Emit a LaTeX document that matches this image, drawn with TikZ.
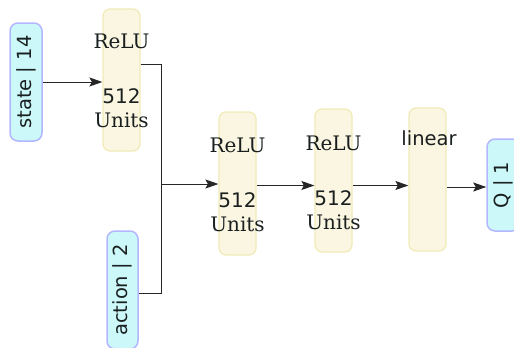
\documentclass[tikz,border=0pt]{standalone}
\usepackage{fontspec}
\setmainfont{DejaVu Sans}
\newfontfamily\serifdv{DejaVu Serif}
\newfontfamily\sansdv{DejaVu Sans}
\usetikzlibrary{arrows.meta}
\definecolor{layerfill}{HTML}{FBF6E1}
\definecolor{layerdraw}{HTML}{F0EBB6}
\definecolor{iofill}{HTML}{CCF8FA}
\definecolor{iodraw}{HTML}{B3B7FF}
\definecolor{txt}{HTML}{1A1F1F}
\tikzset{
  layerbox/.style={draw=layerdraw, fill=layerfill, line width=1.2pt, rounded corners=7pt,
    minimum width=37pt, inner sep=0pt},
  layertext/.style={inner sep=0pt, align=center, text=txt,
    font=\fontsize{20}{24}\selectfont},
  iobox/.style={draw=iodraw, fill=iofill, line width=1.5pt, rounded corners=8pt,
    inner sep=0pt, rotate=90, text=txt, font=\sansdv\fontsize{19.5}{23}\selectfont},
  txtnode/.style={inner sep=0pt, text=txt, font=\sansdv\fontsize{19.5}{23}\selectfont},
  conn/.style={line width=1pt, draw=black!85},
  arr/.style={conn, -{Stealth[length=13pt, width=9pt, inset=2.5pt]}}
}
\begin{document}
\begin{tikzpicture}[x=1pt,y=1pt]
\useasboundingbox (0,0) rectangle (514,-348);
% input / output boxes
\node[iobox, minimum width=118pt, minimum height=32pt] (state) at (26,-82) {state | 14};
\node[iobox, minimum width=118pt, minimum height=31pt] (action) at (122.5,-290) {action | 2};
\node[iobox, minimum width=92pt, minimum height=33pt] (q) at (503.5,-185) {Q | 1};
% layer boxes
\node[layerbox, minimum height=142pt] (relu1) at (121.5,-80) {};
\node[layertext] (relu1t) at (121.5,-80.5) {{\serifdv ReLU}\\[31pt]{\sansdv 512}\\{\serifdv Units}};
\node[layerbox, minimum height=143pt] (relu2) at (237.5,-183.5) {};
\node[layertext] (relu2t) at (237.5,-185) {{\serifdv ReLU}\\[31pt]{\sansdv 512}\\{\serifdv Units}};
\node[layerbox, minimum height=143pt] (relu3) at (333.5,-180.5) {};
\node[layertext] (relu3t) at (333.5,-183) {{\serifdv ReLU}\\[31pt]{\sansdv 512}\\{\serifdv Units}};
\node[layerbox, minimum height=143pt] (linear) at (427.5,-179.5) {};
\node[txtnode] (lintext) at (429,-138) {linear};
% connectors
\coordinate (join) at (161,-184);
\draw[arr] (state.south) -- (state.south -| relu1.west);
\draw[conn] ([yshift=16pt]relu1.east) -| (join);
\draw[conn] ([yshift=-3pt]action.south) -| (join);
\draw[arr] (join) -- (join -| relu2.west);
\draw[arr] ([yshift=-2pt]relu2.east) -- ([yshift=-2pt]relu2.east -| relu3.west);
\draw[arr] ([yshift=-5pt]relu3.east) -- ([yshift=-5pt]relu3.east -| linear.west);
\draw[arr] ([yshift=-7.5pt]linear.east) -- ([yshift=-7.5pt]linear.east -| q.north);
\end{tikzpicture}
\end{document}
